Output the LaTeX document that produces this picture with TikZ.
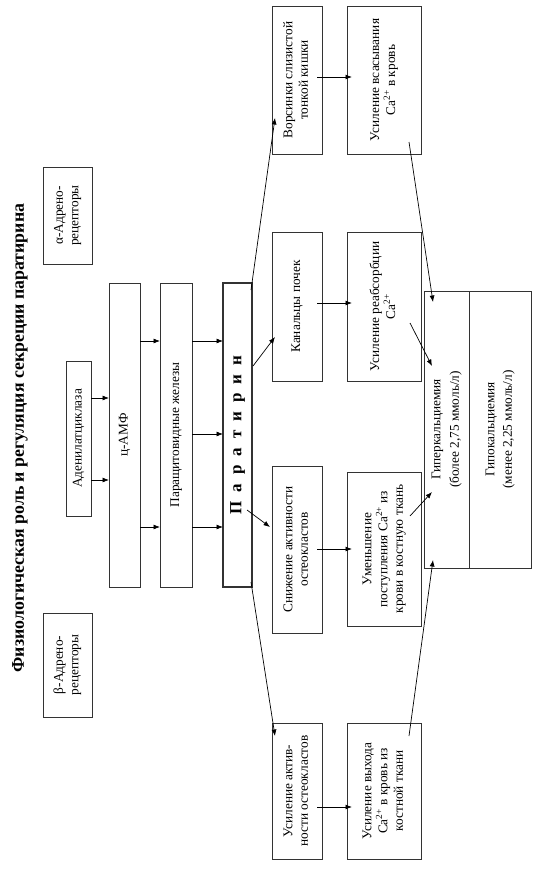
\documentclass[tikz,border=0pt]{standalone}
\usepackage{fontspec}
\usepackage{graphicx}
\setmainfont{Liberation Serif}
\usetikzlibrary{arrows.meta,calc}
\tikzset{
  box/.style={draw=black!80, line width=0.7pt, inner sep=0pt, outer sep=0pt},
  arr/.style={draw=black, line width=0.7pt, -{Latex[length=6.5pt,width=5pt]}},
}
\newcommand\bxtext{\fontsize{13.3}{15.5}\selectfont}
\newcommand\mybox[7][]{%
  \node[box,#1, minimum width={#5-#3}, minimum height={#6-#4}] (#2) at ({(#3+#5)/2},{(#4+#6)/2})
  {\rotatebox{90}{\bxtext\begin{tabular}{@{}c@{}}#7\end{tabular}}};}
\begin{document}
\begin{tikzpicture}[x=1pt,y=-1pt]
\useasboundingbox (0,0) rectangle (541,869);
\fill[white] (0,0) rectangle (541,869);
% title
\node[rotate=90, inner sep=0pt, font=\bfseries\fontsize{17.8}{20}\selectfont] (title) at (20,438)
  {Физиологическая роль и регуляция секреции паратирина};
% boxes
\mybox{alpha}{43}{167}{92}{264}{α-Адрено-\\рецепторы}
\mybox{beta}{43}{613}{92}{717}{β-Адрено-\\рецепторы}
\mybox{adc}{66}{361}{91}{516}{Аденилатциклаза}
\mybox{camp}{109}{283}{140}{587}{ц-АМФ}
\mybox{psh}{160}{283}{192}{587}{Паращитовидные железы}
\node[box, line width=2.4pt, minimum width=29pt, minimum height=304pt] (par) at (237.5,435)
  {\rotatebox{90}{\bfseries\fontsize{17}{18}\selectfont П\ \;а\ \;р\ \;а\ \;т\ \;и\ \;р\ \;и\ \;н}};
\mybox{vors}{272}{6}{322}{154}{Ворсинки слизистой\\тонкой кишки}
\mybox{vsas}{347}{6}{421}{154}{Усиление всасывания\\Ca\textsuperscript{2+} в кровь}
\mybox{kan}{272}{232}{322}{381}{Канальцы почек}
\mybox{reab}{347}{232}{421}{381}{Усиление реабсорбции\\Ca\textsuperscript{2+}}
\mybox{sniz}{272}{466}{322}{633}{Снижение активности\\остеокластов}
\mybox{umen}{347}{472}{421}{626}{Уменьшение\\поступления Ca\textsuperscript{2+} из\\крови в костную ткань}
\mybox{usak}{272}{723}{322}{859}{Усиление актив-\\ности остеокластов}
\mybox{vyh}{347}{723}{421}{859}{Усиление выхода\\Ca\textsuperscript{2+} в кровь из\\костной ткани}
\mybox{hyper}{424}{291}{469}{568}{Гиперкальциемия\\[3pt](более 2,75 ммоль/л)}
\mybox{hypo}{469}{291}{531}{568}{Гипокальциемия\\[2pt](менее 2,25 ммоль/л)}
% arrows left part
\draw[arr] (adc.east |- 0,398) -- (camp.west |- 0,398);
\draw[arr] (adc.east |- 0,480) -- (camp.west |- 0,480);
\draw[arr] (camp.east |- 0,341) -- (psh.west |- 0,341);
\draw[arr] (camp.east |- 0,527) -- (psh.west |- 0,527);
\draw[arr] (psh.east |- 0,341) -- (par.west |- 0,341);
\draw[arr] (psh.east |- 0,434) -- (par.west |- 0,434);
\draw[arr] (psh.east |- 0,527) -- (par.west |- 0,527);
% from paratirin
\draw[arr] ($(par.east |- 0,290)+(-1,0)$) -- ($(vors.west |- 0,118)+(3,0)$);
\draw[arr] ($(par.east |- 0,366)+(1,0)$) -- ($(kan.west |- 0,337)+(3,0)$);
\draw[arr] ($(par.east |- 0,510)+(-5,0)$) -- ($(sniz.west |- 0,527)+(-2,0)$);
\draw[arr] ($(par.east |- 0,582)+(-1,0)$) -- ($(usak.west |- 0,736)+(3,0)$);
% middle horizontal
\draw[arr] ($(vors.east |- 0,77)+(-5,0)$) -- ($(vsas.west |- 0,77)+(5,0)$);
\draw[arr] ($(kan.east |- 0,303)+(-5,0)$) -- ($(reab.west |- 0,303)+(5,0)$);
\draw[arr] ($(sniz.east |- 0,549)+(-5,0)$) -- ($(umen.west |- 0,549)+(5,0)$);
\draw[arr] ($(usak.east |- 0,807)+(-5,0)$) -- ($(vyh.west |- 0,807)+(5,0)$);
% to hyper
\draw[arr] ($(vsas.east |- 0,142)+(-12,0)$) -- ($(hyper.west |- 0,302)+(9,0)$);
\draw[arr] ($(reab.east |- 0,323)+(-11,0)$) -- ($(hyper.west |- 0,366)+(8,0)$);
\draw[arr] ($(umen.east |- 0,516)+(-11,0)$) -- ($(hyper.west |- 0,492)+(8,0)$);
\draw[arr] ($(vyh.east |- 0,736)+(-12,0)$) -- ($(hyper.west |- 0,560)+(9,0)$);
\end{tikzpicture}
\end{document}
